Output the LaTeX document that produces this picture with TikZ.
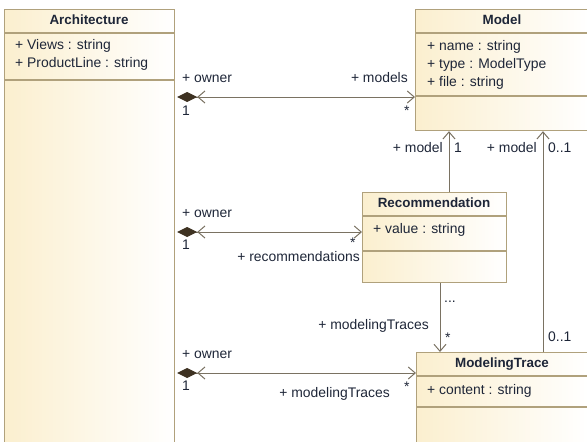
\documentclass[tikz,border=0pt]{standalone}
\usepackage{fontspec}
\setmainfont{Liberation Sans}
\usetikzlibrary{arrows.meta}

\definecolor{boxfill}{HTML}{FBEFCF}
\definecolor{boxline}{HTML}{B0A17C}
\definecolor{assocline}{HTML}{7A7262}
\definecolor{diamondc}{HTML}{3E3222}
\definecolor{labelc}{HTML}{1E2638}

\tikzset{
  classbox/.style={draw=boxline, line width=1.2pt, left color=boxfill, right color=white,
    anchor=north west, inner sep=0pt},
  classname/.style={font=\fontsize{13.4}{15}\selectfont\bfseries, text=labelc,
    inner sep=0pt, text height=9.5pt, text depth=2.5pt},
  member/.style={font=\fontsize{13.9}{15}\selectfont, text=labelc, inner sep=0pt,
    anchor=west, text height=9.5pt, text depth=2.5pt},
  assoc/.style={draw=assocline, line width=1pt},
  navi/.style={-{Straight Barb[length=7pt,width=12pt]}},
  owned/.style={{Diamond[length=20pt,width=10pt,color=diamondc,fill=diamondc,sep=2pt]Straight Barb[length=7pt,width=12pt]}-{Straight Barb[length=7pt,width=12pt]}},
}

\begin{document}
\begin{tikzpicture}[x=1pt,y=-1pt]
  \useasboundingbox (0,0) rectangle (587,442);
  \clip (0,0) rectangle (587,442);

  % classes
  \node[classbox, minimum width=170pt, minimum height=460pt] (arch)  at (4,9)   {};
  \node[classbox, minimum width=174pt, minimum height=121pt] (model) at (415,9) {};
  \node[classbox, minimum width=144pt, minimum height=90pt]  (rec)   at (362,192) {};
  \node[classbox, minimum width=172pt, minimum height=120pt] (trace) at (416,352) {};

  \draw[boxline, line width=1.2pt]
    (arch.west |- 0,33)  -- (arch.east |- 0,33)
    (arch.west |- 0,80)  -- (arch.east |- 0,80)
    (model.west |- 0,33) -- (model.east |- 0,33)
    (model.west |- 0,96) -- (model.east |- 0,96)
    (rec.west |- 0,216)  -- (rec.east |- 0,216)
    (rec.west |- 0,251)  -- (rec.east |- 0,251)
    (trace.west |- 0,376) -- (trace.east |- 0,376)
    (trace.west |- 0,407) -- (trace.east |- 0,407);

  \node[classname] (archname)  at (89,21)  {Architecture};
  \node[member] (views)  at (15,46) {+ Views : string};
  \node[member] (pline)  at (15,64) {+ ProductLine : string};

  \node[classname] (modelname) at (502,21) {Model};
  \node[member] (mname)  at (427,47) {+ name : string};
  \node[member] (mtype)  at (427,65) {+ type : ModelType};
  \node[member] (mfile)  at (427,83) {+ file : string};

  \node[classname] (recname) at (434,204) {Recommendation};
  \node[member] (rvalue) at (373,230) {+ value : string};

  \node[classname] (tracename) at (502,364) {ModelingTrace};
  \node[member] (tcontent) at (427,391) {+ content : string};

  % associations
  \draw[assoc, owned] (arch.east |- 0,97)  -- (model.west |- 0,97);
  \draw[assoc, owned] (arch.east |- 0,232) -- (rec.west |- 0,232);
  \draw[assoc, owned] (arch.east |- 0,373) -- (trace.west |- 0,373);
  \draw[assoc, navi]  (rec.north -| 449,0)   -- (model.south -| 449,0);
  \draw[assoc, navi]  (trace.north -| 543,0) -- (model.south -| 543,0);
  \draw[assoc, navi]  (rec.south -| 440,0)   -- (trace.north -| 440,0);

  % role names and multiplicities
  \node[member] (owner1) at (182,79)  {+ owner};
  \node[member] (one1)   at (182,112) {1};
  \node[member, anchor=east] (models) at (408,79)  {+ models};
  \node[member] (many1)  at (404,112) {*};

  \node[member, anchor=east] (model1) at (443,149) {+ model};
  \node[member] (one2)   at (454,149) {1};
  \node[member, anchor=east] (model2) at (537,149) {+ model};
  \node[member] (zero1)  at (548,149) {0..1};

  \node[member] (owner2) at (182,214) {+ owner};
  \node[member] (one3)   at (182,246) {1};
  \node[member] (many2)  at (350,244) {*};
  \node[member, anchor=east] (recs) at (360,257.5) {+ recommendations};

  \node[member] (dots)   at (444,299) {...};
  \node[member, anchor=east] (traces1) at (429,326) {+ modelingTraces};
  \node[member] (many3)  at (445,339) {*};
  \node[member] (zero2)  at (548,338) {0..1};

  \node[member] (owner3) at (182,355) {+ owner};
  \node[member] (one4)   at (182,387) {1};
  \node[member] (many4)  at (404,388) {*};
  \node[member, anchor=east] (traces2) at (390,394) {+ modelingTraces};
\end{tikzpicture}
\end{document}
